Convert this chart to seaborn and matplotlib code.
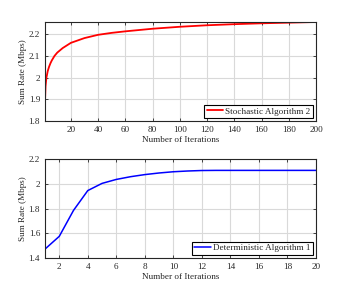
import matplotlib
matplotlib.use("Agg")
import matplotlib.pyplot as plt
import seaborn as sns
import pandas as pd

# Stochastic Algorithm 2
stoch_iter = [1, 1.4, 2, 3, 4, 5, 6, 8, 10, 14, 20, 30, 40, 50, 60, 80, 100, 120, 140, 160, 180, 200]
stoch_rate = [1.89, 1.96, 1.998, 2.03, 2.05, 2.066, 2.079, 2.1, 2.115, 2.136, 2.16, 2.182, 2.197,
              2.206, 2.213, 2.225, 2.234, 2.241, 2.246, 2.25, 2.253, 2.256]

# Deterministic Algorithm 1
det_iter = list(range(1, 21))
det_rate = [1.472, 1.575, 1.785, 1.945, 2.003, 2.035, 2.057, 2.074, 2.087, 2.097, 2.103, 2.107,
            2.108, 2.108, 2.108, 2.108, 2.108, 2.108, 2.108, 2.108]

top_xticks = [20, 40, 60, 80, 100, 120, 140, 160, 180, 200]
top_yticks = [1.8, 1.9, 2.0, 2.1, 2.2]
top_yticklabels = ["1.8", "1.9", "2", "2.1", "2.2"]
bot_xticks = [2, 4, 6, 8, 10, 12, 14, 16, 18, 20]
bot_yticks = [1.4, 1.6, 1.8, 2.0, 2.2]
bot_yticklabels = ["1.4", "1.6", "1.8", "2", "2.2"]

sns.set_theme(style="white")
plt.rcParams["font.family"] = ["Liberation Serif", "DejaVu Serif"]
plt.rcParams["mathtext.fontset"] = "stix"

fig = plt.figure(figsize=(3.49, 2.90), dpi=100)
ax1 = fig.add_axes([45/349, 1 - 121/290, (316-45)/349, (121-22)/290])
ax2 = fig.add_axes([45/349, 1 - 258/290, (316-45)/349, (258-159)/290])

df1 = pd.DataFrame({"it": stoch_iter, "rate": stoch_rate})
df2 = pd.DataFrame({"it": det_iter, "rate": det_rate})

sns.lineplot(data=df1, x="it", y="rate", ax=ax1, color="#ff0000", lw=1.3,
             label="Stochastic Algorithm 2")
sns.lineplot(data=df2, x="it", y="rate", ax=ax2, color="#0000ff", lw=1.1,
             label="Deterministic Algorithm 1")

fs = 6.6
for ax, xt, yt, ytl, xl, yl in [
    (ax1, top_xticks, top_yticks, top_yticklabels, (1, 200), (1.8, 2.256)),
    (ax2, bot_xticks, bot_yticks, bot_yticklabels, (1, 20), (1.4, 2.2)),
]:
    ax.set_xlim(*xl)
    ax.set_ylim(*yl)
    ax.set_xticks(xt)
    ax.set_yticks(yt)
    ax.set_yticklabels(ytl)
    ax.grid(True, color="#d9d9d9", lw=0.8)
    ax.set_axisbelow(True)
    for s in ax.spines.values():
        s.set_visible(True)
        s.set_color("#262626")
        s.set_linewidth(0.8)
    ax.tick_params(direction="in", length=2.5, width=0.6, labelsize=fs,
                   top=True, right=True, bottom=True, left=True,
                   colors="#262626", labelcolor="#262626", pad=3.5)
    ax.set_xlabel("Number of Iterations", fontsize=fs, labelpad=1.5, color="#262626")
    ax.set_ylabel("Sum Rate (Mbps)", fontsize=fs, labelpad=1.5, color="#262626")
    leg = ax.legend(loc="lower right", fontsize=fs, frameon=True, fancybox=False,
                    borderpad=0.25, handlelength=1.8, handletextpad=0.25,
                    borderaxespad=0.35, edgecolor="black", framealpha=1)
    leg.get_frame().set_linewidth(0.8)

fig.savefig("out.png", dpi=100)
